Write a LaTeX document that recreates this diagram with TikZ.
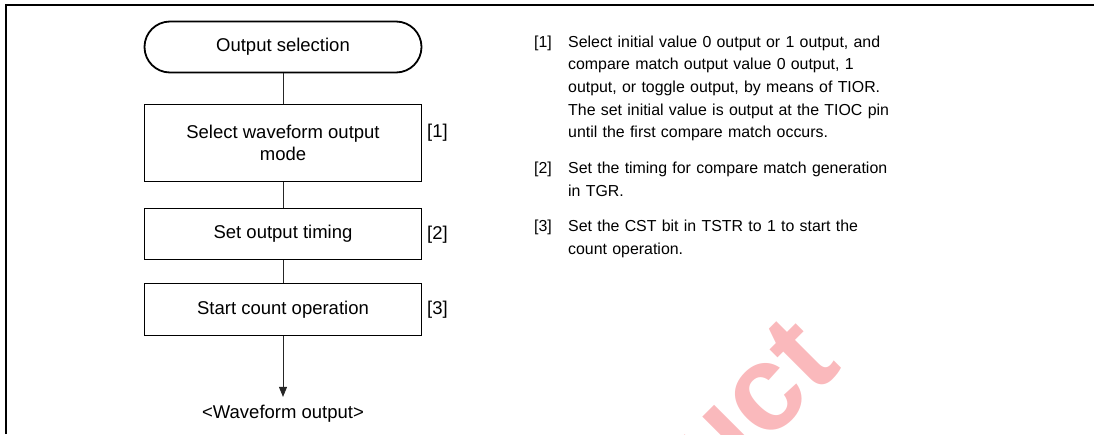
\documentclass[tikz,border=0pt]{standalone}
\usepackage{fontspec}
\setmainfont{Liberation Sans}
\usetikzlibrary{arrows.meta}
\definecolor{wm}{RGB}{250,185,188}
\begin{document}
\begin{tikzpicture}[x=1pt,y=-1pt,
  box/.style={draw, line width=1.8pt, minimum width=277pt, inner sep=0pt,
    font=\fontsize{18.5}{22.3}\selectfont, align=center},
  conn/.style={line width=0.9pt, draw=black!85},
  lbl/.style={font=\fontsize{18.5}{22.3}\selectfont, anchor=west, inner sep=0pt},
  rlbl/.style={font=\fontsize{15.9}{22.7}\selectfont, anchor=base west, inner sep=0pt},
  rtxt/.style={font=\fontsize{15.9}{22.7}\selectfont, anchor=base west, inner sep=0pt,
    text width=380pt, align=left},
  frame/.style={line width=2pt}]
\useasboundingbox (0,0) rectangle (1094,434);
\begin{scope}
\clip (0,0) rectangle (1094,434);
\node[rotate=45, anchor=base east, inner sep=0pt, text=wm,
  font=\fontsize{122}{122}\selectfont\bfseries] (wmark) at (843,368) {uct};
\end{scope}
% frame
\coordinate (fl) at (6,434);
\coordinate (ftl) at (6,5);
\coordinate (ftr) at (1094,5);
\draw[frame] (fl) -- (ftl) -- (ftr);
% flowchart
\node[box, minimum height=51pt, rounded corners=25.5pt] (start) at (283,47) {Output selection};
\node[box, minimum height=77pt] (b1) at (283,143) {Select waveform output\\mode};
\node[box, minimum height=51pt] (b2) at (283,234) {Set output timing};
\node[box, minimum height=52pt] (b3) at (283,309.5) {Start count operation};
\node[font=\fontsize{18.5}{22.3}\selectfont, anchor=base, inner sep=0pt] (out) at (283,418.5) {<Waveform output>};
\draw[conn] (start) -- (b1);
\draw[conn] (b1) -- (b2);
\draw[conn] (b2) -- (b3);
\draw[conn, -{Triangle[length=10pt,width=8pt]}, shorten >=8pt] (b3) -- (out.north);
\node[lbl] (l1) at (427,133) {[1]};
\node[lbl] (l2) at (427,235) {[2]};
\node[lbl] (l3) at (427,310) {[3]};
% notes
\node[rlbl] (n1) at (534,47) {[1]};
\node[rtxt] (t1) at (568,47) {Select initial value 0 output or 1 output, and\\compare match output value 0 output, 1\\output, or toggle output, by means of TIOR.\\The set initial value is output at the TIOC pin\\until the first compare match occurs.};
\node[rlbl] (n2) at (534,173.7) {[2]};
\node[rtxt] (t2) at (568,173.7) {Set the timing for compare match generation\\in TGR.};
\node[rlbl] (n3) at (534,231.7) {[3]};
\node[rtxt] (t3) at (568,231.7) {Set the CST bit in TSTR to 1 to start the\\count operation.};
\end{tikzpicture}
\end{document}
